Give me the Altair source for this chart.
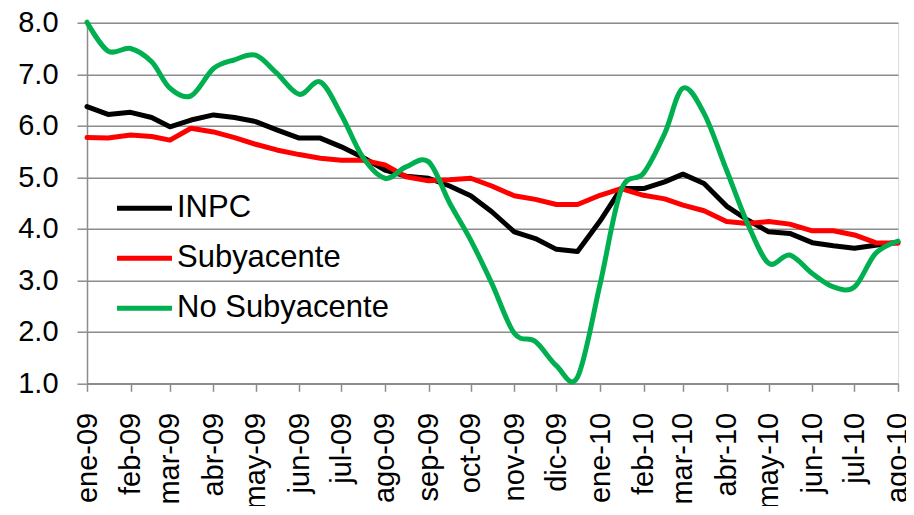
import json
import altair as alt
import pandas as pd

# Biweekly observation dates (1st and 16th of each month)
fechas = [
    "2009-01-01", "2009-01-16", "2009-02-01", "2009-02-16", "2009-03-01", "2009-03-16",
    "2009-04-01", "2009-04-16", "2009-05-01", "2009-05-16", "2009-06-01", "2009-06-16",
    "2009-07-01", "2009-07-16", "2009-08-01", "2009-08-16", "2009-09-01", "2009-09-16",
    "2009-10-01", "2009-10-16", "2009-11-01", "2009-11-16", "2009-12-01", "2009-12-16",
    "2010-01-01", "2010-01-16", "2010-02-01", "2010-02-16", "2010-03-01", "2010-03-16",
    "2010-04-01", "2010-04-16", "2010-05-01", "2010-05-16", "2010-06-01", "2010-06-16",
    "2010-07-01", "2010-07-16", "2010-08-01",
]

inpc = [6.37, 6.22, 6.26, 6.16, 5.98, 6.11, 6.21, 6.16, 6.08, 5.92,
        5.76, 5.76, 5.59, 5.39, 5.14, 5.02, 4.98, 4.83, 4.64, 4.33,
        3.94, 3.81, 3.60, 3.56, 4.15, 4.78, 4.78, 4.91, 5.06, 4.88,
        4.44, 4.17, 3.94, 3.91, 3.73, 3.67, 3.62, 3.68, 3.74]

subyacente = [5.77, 5.76, 5.82, 5.79, 5.72, 5.95, 5.88, 5.77, 5.64, 5.53,
              5.44, 5.37, 5.33, 5.33, 5.24, 5.01, 4.93, 4.95, 4.98, 4.83,
              4.64, 4.57, 4.47, 4.47, 4.65, 4.78, 4.65, 4.58, 4.46, 4.35,
              4.14, 4.10, 4.14, 4.09, 3.96, 3.96, 3.88, 3.73, 3.72]

no_subyacente = [8.01, 7.45, 7.50, 7.24, 6.73, 6.58, 7.11, 7.28, 7.37, 7.02,
                 6.61, 6.85, 6.21, 5.40, 4.98, 5.20, 5.30, 4.50, 3.78, 2.94,
                 1.97, 1.81, 1.34, 1.12, 2.92, 4.75, 5.08, 5.85, 6.73, 6.24,
                 5.14, 4.10, 3.33, 3.49, 3.13, 2.87, 2.87, 3.52, 3.76]

series = ["INPC", "Subyacente", "No Subyacente"]
colores = ["#000000", "#ff0000", "#00b050"]

meses = ["ene", "feb", "mar", "abr", "may", "jun", "jul", "ago", "sep", "oct", "nov", "dic"]
tick_meses = [(2009, m) for m in range(1, 13)] + [(2010, m) for m in range(1, 9)]
y_ticks = [1, 2, 3, 4, 5, 6, 7, 8]

rows = []
for nombre, vals in zip(series, [inpc, subyacente, no_subyacente]):
    for f, v in zip(fechas, vals):
        rows.append({"fecha": f, "valor": v, "serie": nombre})
df = pd.DataFrame(rows)

FONT = "Liberation Sans"
GRAY = "#8c8c8c"

label_expr = json.dumps(meses) + "[utcmonth(datum.value)] + '-' + utcFormat(datum.value, '%y')"

x_enc = alt.X(
    "fecha:T",
    scale=alt.Scale(type="utc",
                    domain=[alt.DateTime(year=2009, month=1, date=1, utc=True),
                            alt.DateTime(year=2010, month=8, date=1, utc=True)]),
    axis=alt.Axis(
        values=[alt.DateTime(year=y, month=m, date=1, utc=True) for y, m in tick_meses],
        labelExpr=label_expr,
        labelAngle=270,
        labelAlign="right",
        labelBaseline="middle",
        labelFont=FONT,
        labelFontSize=29,
        labelColor="#000000",
        labelPadding=21,
        labelOverlap=False,
        labelBound=False,
        labelFlush=False,
        labelLimit=0,
        tickSize=8,
        tickColor=GRAY,
        tickWidth=1.5,
        domainColor=GRAY,
        domainWidth=1.5,
        grid=False,
        title=None,
    ),
)

y_enc = alt.Y(
    "valor:Q",
    scale=alt.Scale(domain=[1, 8], nice=False, zero=False),
    axis=alt.Axis(
        values=y_ticks,
        format=".1f",
        labelFont=FONT,
        labelFontSize=29,
        labelColor="#000000",
        labelPadding=19,
        tickSize=10,
        tickColor=GRAY,
        tickWidth=1.5,
        domainColor=GRAY,
        domainWidth=1.5,
        grid=True,
        gridColor=GRAY,
        gridWidth=1.5,
        title=None,
    ),
)

color_enc = alt.Color(
    "serie:N",
    scale=alt.Scale(domain=series, range=colores),
    sort=series,
    legend=alt.Legend(
        title=None,
        orient="none",
        legendX=41,
        legendY=169,
        padding=0,
        symbolType="M-2,0H2",
        symbolSize=756,
        symbolStrokeWidth=5,
        labelFont=FONT,
        labelFontSize=31,
        labelColor="#000000",
        labelOffset=16,
        labelLimit=0,
        rowPadding=18,
    ),
)

base = alt.Chart(df).encode(x=x_enc, y=y_enc, color=color_enc)

capa_inpc = base.transform_filter(alt.datum.serie == "INPC").mark_line(
    strokeWidth=5, strokeJoin="round", strokeCap="round")
capa_sub = base.transform_filter(alt.datum.serie == "Subyacente").mark_line(
    strokeWidth=5, strokeJoin="round", strokeCap="round")
capa_nosub = base.transform_filter(alt.datum.serie == "No Subyacente").mark_line(
    strokeWidth=5, strokeJoin="round", strokeCap="round", interpolate="cardinal")

chart = alt.layer(capa_inpc, capa_sub, capa_nosub).properties(
    width=811,
    height=360.6,
    title=alt.TitleParams("(%)", font=FONT, fontSize=29, fontWeight="normal",
                          color="#000000", baseline="bottom", offset=4, dx=-32),
    autosize=alt.AutoSizeParams(type="none"),
    padding={"left": 79, "top": 14.7, "right": 8, "bottom": 123},
).configure_view(stroke=None).configure(background="white")

chart.save("out.html", embed_options={"renderer": "svg", "actions": False})
